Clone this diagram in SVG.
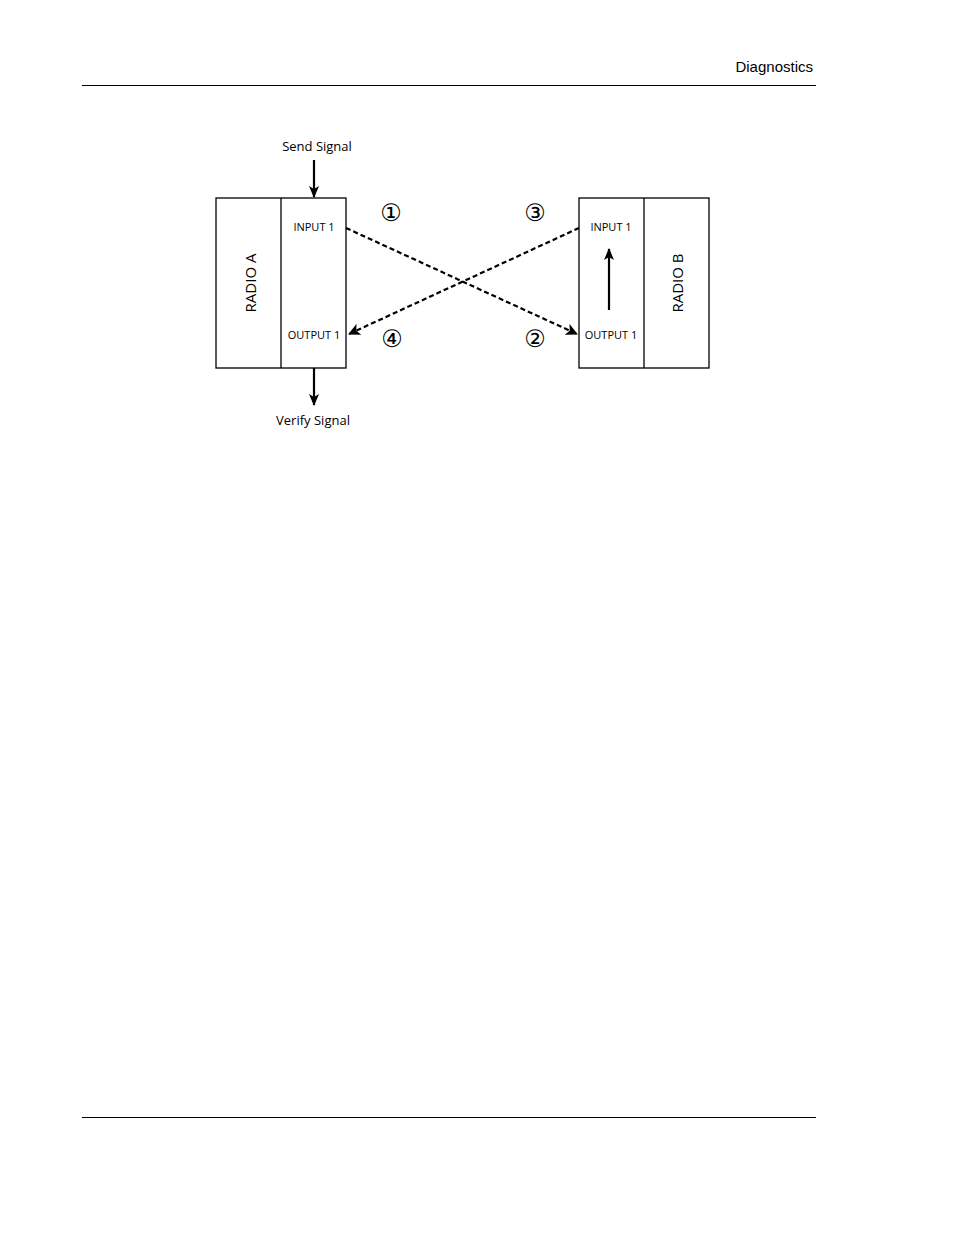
<svg xmlns="http://www.w3.org/2000/svg" width="954" height="1235" viewBox="0 0 954 1235">
<style>
.t{font-family:"Open Sans","DejaVu Sans",sans-serif;fill:#000}
.box{fill:#fff;stroke:#000;stroke-width:1.3}
.d{stroke:#000;stroke-width:2.2;stroke-dasharray:5,3;fill:none}
.s{stroke:#000;stroke-width:2.2;fill:none}
</style>
<defs>
<marker id="ah" viewBox="0 0 12 10" refX="11" refY="5" markerWidth="12" markerHeight="10" markerUnits="userSpaceOnUse" orient="auto"><path d="M0,0 L12,5 L0,10 L3,5z" fill="#000"/></marker>
<marker id="ab" viewBox="0 0 12 12" refX="11" refY="6" markerWidth="12" markerHeight="12" markerUnits="userSpaceOnUse" orient="auto"><path d="M0,0 L12,6 L0,12 L3,6z" fill="#000"/></marker>
</defs>
<rect width="954" height="1235" fill="#fff"/>
<text x="813" y="72" text-anchor="end" font-family="Liberation Sans Narrow,Liberation Sans,Arial,sans-serif" font-size="15">Diagnostics</text>
<line x1="82" y1="85.5" x2="816" y2="85.5" stroke="#000"/>
<line x1="82" y1="1117.5" x2="816" y2="1117.5" stroke="#000"/>
<g id="radioA">
<rect class="box" x="216" y="198" width="130" height="170"/>
<line x1="281" y1="198" x2="281" y2="368" stroke="#000" stroke-width="1.3"/>
<text class="t" font-size="15" transform="translate(256,283) rotate(-90)" text-anchor="middle">RADIO A</text>
<text class="t" x="314" y="231" font-size="11" text-anchor="middle">INPUT 1</text>
<text class="t" x="314" y="339" font-size="11" text-anchor="middle">OUTPUT 1</text>
</g>
<g id="radioB">
<rect class="box" x="579" y="198" width="130" height="170"/>
<line x1="644" y1="198" x2="644" y2="368" stroke="#000" stroke-width="1.3"/>
<text class="t" font-size="15" transform="translate(683,283) rotate(-90)" text-anchor="middle">RADIO B</text>
<text class="t" x="611" y="231" font-size="11" text-anchor="middle">INPUT 1</text>
<text class="t" x="611" y="339" font-size="11" text-anchor="middle">OUTPUT 1</text>
</g>
<g id="labels">
<text class="t" x="317" y="151" font-size="13" text-anchor="middle">Send Signal</text>
<text class="t" x="313" y="425" font-size="13" text-anchor="middle">Verify Signal</text>
<text class="t" x="391" y="221" font-size="24" text-anchor="middle">①</text>
<text class="t" x="535" y="221" font-size="24" text-anchor="middle">③</text>
<text class="t" x="392" y="347" font-size="24" text-anchor="middle">④</text>
<text class="t" x="535" y="347" font-size="24" text-anchor="middle">②</text>
</g>
<g id="connectors">
<line class="s" x1="314" y1="160" x2="314" y2="197" marker-end="url(#ah)"/>
<line class="s" x1="314" y1="368" x2="314" y2="405" marker-end="url(#ah)"/>
<line class="s" x1="609" y1="310" x2="609" y2="249" marker-end="url(#ah)"/>
<line class="d" x1="346" y1="228" x2="577" y2="334" marker-end="url(#ab)"/>
<line class="d" x1="579" y1="228" x2="349" y2="334" marker-end="url(#ab)"/>
</g>
</svg>
